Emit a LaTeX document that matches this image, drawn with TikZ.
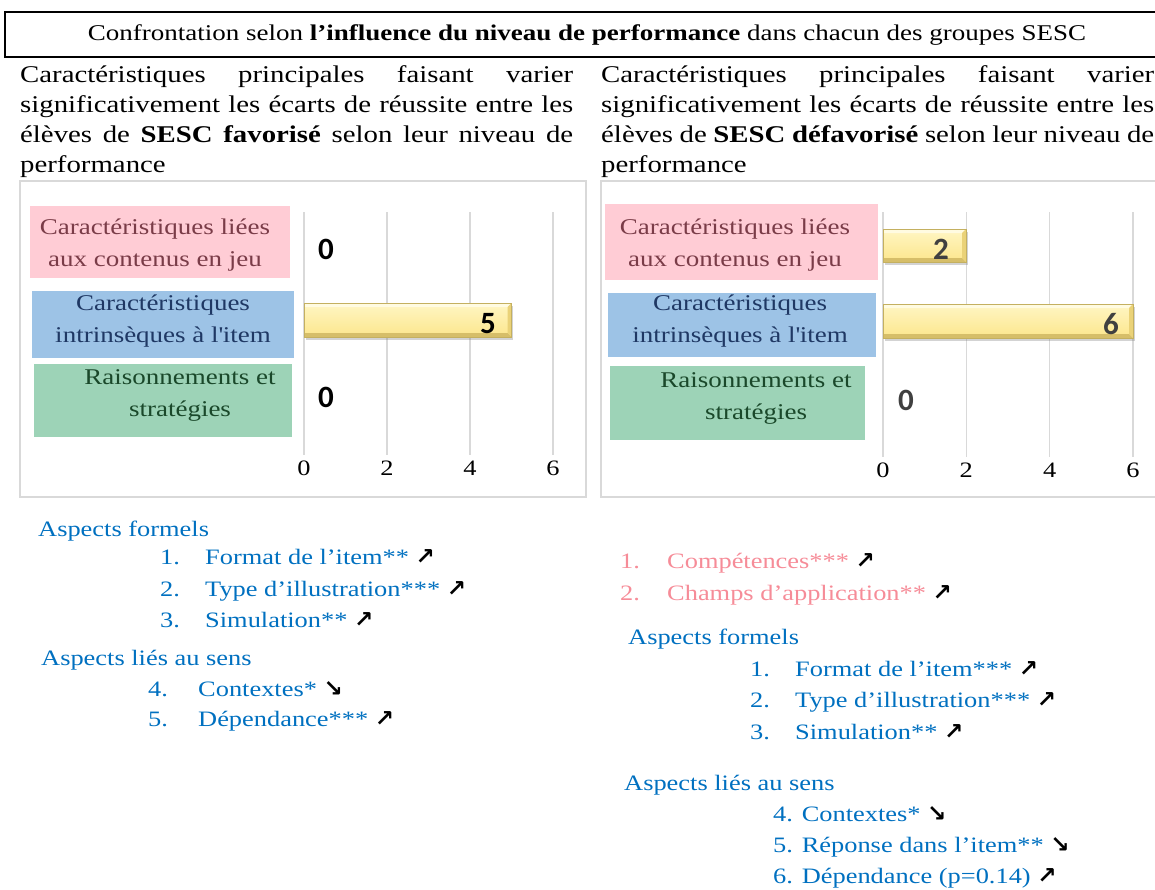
\documentclass[tikz,border=0pt]{standalone}
\usepackage{fontspec}
\setmainfont{Liberation Serif}[FakeStretch=1.2]
\newfontfamily\numfont{Carlito}
\newfontfamily\arrowfont{DejaVu Sans}
\usetikzlibrary{shadows}

\definecolor{listblue}{RGB}{0,112,192}
\definecolor{listpink}{RGB}{246,140,152}
\definecolor{pinkbox}{RGB}{255,204,213}
\definecolor{bluebox}{RGB}{157,195,230}
\definecolor{greenbox}{RGB}{157,211,183}
\definecolor{pinktext}{RGB}{122,60,72}
\definecolor{bluetext}{RGB}{31,56,100}
\definecolor{greentext}{RGB}{26,72,42}
\definecolor{gridgray}{RGB}{217,217,217}
\definecolor{bartop}{RGB}{255,246,196}
\definecolor{barbot}{RGB}{252,230,140}
\definecolor{barlight}{RGB}{255,251,225}
\definecolor{bardark}{RGB}{214,190,105}
\definecolor{barside}{RGB}{234,210,120}
\definecolor{baredge}{RGB}{196,176,96}
\definecolor{valgray}{RGB}{64,64,64}

\newcommand{\hausse}{{\color{black}\arrowfont\bfseries\fontsize{23}{24}\selectfont ↗}}
\newcommand{\baisse}{{\color{black}\arrowfont\bfseries\fontsize{23}{24}\selectfont ↘}}

% bar with bevelled edges: x1, y1, x2, y2
\newcommand{\bevelbar}[4]{
  \path [top color=bartop, bottom color=barbot,
    drop shadow={opacity=0.35, shadow xshift=1.5pt, shadow yshift=-3pt}] (#1,#2) rectangle (#3,#4);
  \fill [barlight] (#1,#2) -- (#3,#2) -- (#3-4,#2+4) -- (#1+1,#2+4) -- cycle;
  \fill [bardark] (#1,#4) -- (#3,#4) -- (#3-4,#4-4) -- (#1+1,#4-4) -- cycle;
  \fill [barside] (#3,#2) -- (#3,#4) -- (#3-4,#4-4) -- (#3-4,#2+4) -- cycle;
  \draw [baredge, line width=0.6pt] (#1,#2) rectangle (#3,#4);
}

\tikzset{
  para/.style={anchor=north west, inner sep=0pt, text width=553pt, align=justify,
    font=\fontsize{24}{30}\selectfont},
  catlabel/.style={align=center, inner sep=0pt, font=\fontsize{22.5}{32}\selectfont},
  ticklabel/.style={anchor=base, inner sep=0pt, font=\fontsize{22}{26}\selectfont},
  barval/.style={anchor=base, inner sep=0pt, font=\numfont\bfseries\fontsize{31}{32}\selectfont},
  listline/.style={anchor=base west, inner sep=0pt, font=\fontsize{22}{26}\selectfont},
  frame/.style={draw=gridgray, line width=1.2pt},
}

\begin{document}
\begin{tikzpicture}[x=1pt,y=-1pt]

\useasboundingbox (0,0) rectangle (1155,889);

\draw [line width=1.5pt] (5,12) rectangle (1175,57);

\node [anchor=base, font=\fontsize{22.5}{30}\selectfont] (title) at (587,40)
  {Confrontation selon \textbf{l’influence du niveau de performance} dans chacun des groupes SESC};

\node [para] (lpara) at (20,65) {Caractéristiques principales faisant varier\linebreak
  significativement les écarts de réussite entre les\linebreak
  élèves de \textbf{SESC favorisé} selon leur niveau de\linebreak performance};

\node [para] (rpara) at (601,65) {Caractéristiques principales faisant varier\linebreak
  significativement les écarts de réussite entre les\linebreak
  élèves de \textbf{SESC défavorisé} selon leur niveau de\linebreak performance};

% left chart
\draw [frame] (20,181) rectangle (586,497);

\foreach \k/\v in {0/0,1/2,2/4,3/6} {
  \draw [gridgray, line width=1.2pt] (304+83*\k,212) -- (304+83*\k,455);
  \node [ticklabel] (ltick\k) at (304+83*\k,475) {\v};
}

\fill [pinkbox] (30,206) rectangle (290,278);
\node [catlabel, text=pinktext] (lcont) at (155,245) {Caractéristiques liées\\aux contenus en jeu};

\fill [bluebox] (32,291) rectangle (294,358);
\node [catlabel, text=bluetext] (litem) at (163,321) {Caractéristiques\\intrinsèques à l\textquotesingle item};

\fill [greenbox] (34,364) rectangle (292,437);
\node [catlabel, text=greentext] (lrais) at (180,395) {Raisonnements et\\stratégies};

\bevelbar{304}{303}{511.5}{337}

\node [barval] (lval1) at (326,259) {0};
\node [barval] (lval2) at (488,333) {5};
\node [barval] (lval3) at (326,407) {0};

% right chart
\draw [frame] (601,181) rectangle (1175,497);

\foreach \k/\v in {0/0,1/2,2/4,3/6} {
  \draw [gridgray, line width=1.2pt] (883+83.33*\k,212) -- (883+83.33*\k,457);
  \node [ticklabel] (rtick\k) at (883+83.33*\k,477) {\v};
}

\fill [pinkbox] (605,204) rectangle (878,280);
\node [catlabel, text=pinktext] (rcont) at (735,245) {Caractéristiques liées\\aux contenus en jeu};

\fill [bluebox] (608,293) rectangle (876,357);
\node [catlabel, text=bluetext] (ritem) at (740,321) {Caractéristiques\\intrinsèques à l\textquotesingle item};

\fill [greenbox] (610,366) rectangle (865,440);
\node [catlabel, text=greentext] (rrais) at (756,398) {Raisonnements et\\stratégies};

\bevelbar{883}{229}{966}{262}
\bevelbar{883}{304}{1133}{338}

\node [barval, text=valgray] (rval1) at (941,259) {2};
\node [barval, text=valgray] (rval2) at (1111,334) {6};
\node [barval, text=valgray] (rval3) at (906,410) {0};

% left list
\node [listline, text=listblue] (lform) at (38,536) {Aspects formels};
\node [listline, text=listblue] (ln1) at (160,564) {1.};
\node [listline, text=listblue] (lt1) at (205,564) {Format de l’item** \hausse};
\node [listline, text=listblue] (ln2) at (160,596) {2.};
\node [listline, text=listblue] (lt2) at (205,596) {Type d’illustration*** \hausse};
\node [listline, text=listblue] (ln3) at (160,627) {3.};
\node [listline, text=listblue] (lt3) at (205,627) {Simulation** \hausse};

\node [listline, text=listblue] (lsens) at (41,665) {Aspects liés au sens};
\node [listline, text=listblue] (ln4) at (148,696) {4.};
\node [listline, text=listblue] (lt4) at (198,696) {Contextes* \baisse};
\node [listline, text=listblue] (ln5) at (148,726) {5.};
\node [listline, text=listblue] (lt5) at (198,726) {Dépendance*** \hausse};

% right list
\node [listline, text=listpink] (rp1) at (620,568) {1.};
\node [listline, text=listpink] (rc1) at (667,568) {Compétences*** \hausse};
\node [listline, text=listpink] (rp2) at (620,600) {2.};
\node [listline, text=listpink] (rc2) at (667,600) {Champs d’application** \hausse};

\node [listline, text=listblue] (rform) at (628,644) {Aspects formels};
\node [listline, text=listblue] (rn1) at (750,676) {1.};
\node [listline, text=listblue] (rt1) at (795,676) {Format de l’item*** \hausse};
\node [listline, text=listblue] (rn2) at (750,707) {2.};
\node [listline, text=listblue] (rt2) at (795,707) {Type d’illustration*** \hausse};
\node [listline, text=listblue] (rn3) at (750,739) {3.};
\node [listline, text=listblue] (rt3) at (795,739) {Simulation** \hausse};

\node [listline, text=listblue] (rsens) at (624,790) {Aspects liés au sens};
\node [listline, text=listblue] (rt4) at (773,821) {4. Contextes* \baisse};
\node [listline, text=listblue] (rt5) at (773,852) {5. Réponse dans l’item** \baisse};
\node [listline, text=listblue] (rt6) at (773,883) {6. Dépendance (p=0.14) \hausse};

\end{tikzpicture}
\end{document}
